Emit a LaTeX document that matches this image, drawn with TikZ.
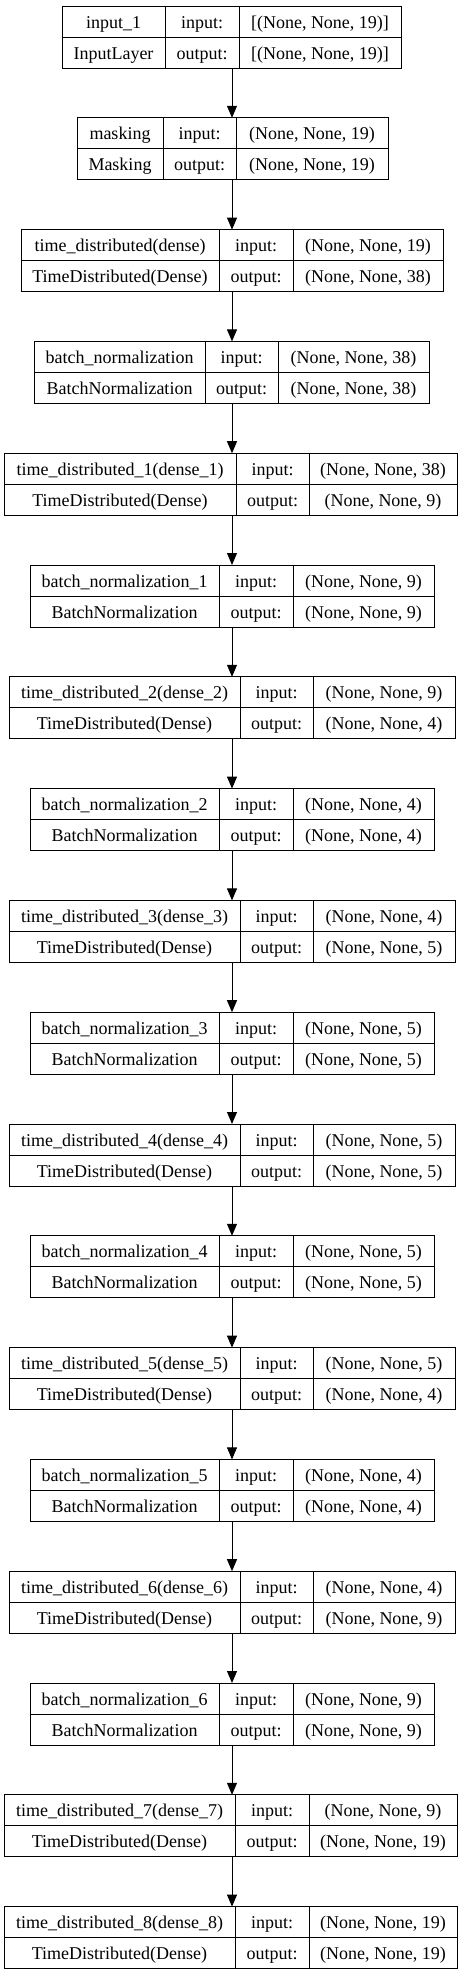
\documentclass[tikz,border=0pt]{standalone}
\usepackage{fontspec}
\setmainfont{Liberation Serif}
\usetikzlibrary{arrows.meta}

\tikzset{
  layerbox/.style = {draw, line width=1pt, minimum height=62pt, inner sep=0pt, outer sep=0pt},
  divider/.style = {line width=1pt},
  celltext/.style = {inner sep=0pt, anchor=base, font=\fontsize{18}{20}\selectfont},
  flow/.style = {line width=1pt, -{Triangle[length=12pt,width=10pt]}}
}

\begin{document}
\begin{tikzpicture}[x=1pt, y=1pt]
  \useasboundingbox (0,0) rectangle (464,-1979);
  \coordinate (spine) at (232,0);

  % one box per layer: name/left/divider/divider/right/layer/type/input/output
  \foreach \n/\a/\b/\c/\d/\lab/\typ/\shin/\shout [count=\i from 0] in {
    inp/62/165/239/401/{input\_1}/{InputLayer}/{[(None, None, 19)]}/{[(None, None, 19)]},
    mask/77/163/236/388/{masking}/{Masking}/{(None, None, 19)}/{(None, None, 19)},
    td0/21/219/293/443/{time\_distributed(dense)}/{TimeDistributed(Dense)}/{(None, None, 19)}/{(None, None, 38)},
    bn0/34/205/278/429/{batch\_normalization}/{BatchNormalization}/{(None, None, 38)}/{(None, None, 38)},
    td1/4/236/309/457/{time\_distributed\_1(dense\_1)}/{TimeDistributed(Dense)}/{(None, None, 38)}/{(None, None, 9)},
    bn1/30/219/293/434/{batch\_normalization\_1}/{BatchNormalization}/{(None, None, 9)}/{(None, None, 9)},
    td2/9/240/313/455/{time\_distributed\_2(dense\_2)}/{TimeDistributed(Dense)}/{(None, None, 9)}/{(None, None, 4)},
    bn2/30/219/293/434/{batch\_normalization\_2}/{BatchNormalization}/{(None, None, 4)}/{(None, None, 4)},
    td3/9/240/313/455/{time\_distributed\_3(dense\_3)}/{TimeDistributed(Dense)}/{(None, None, 4)}/{(None, None, 5)},
    bn3/30/219/293/434/{batch\_normalization\_3}/{BatchNormalization}/{(None, None, 5)}/{(None, None, 5)},
    td4/9/240/313/455/{time\_distributed\_4(dense\_4)}/{TimeDistributed(Dense)}/{(None, None, 5)}/{(None, None, 5)},
    bn4/30/219/293/434/{batch\_normalization\_4}/{BatchNormalization}/{(None, None, 5)}/{(None, None, 5)},
    td5/9/240/313/455/{time\_distributed\_5(dense\_5)}/{TimeDistributed(Dense)}/{(None, None, 5)}/{(None, None, 4)},
    bn5/30/219/293/434/{batch\_normalization\_5}/{BatchNormalization}/{(None, None, 4)}/{(None, None, 4)},
    td6/9/240/313/455/{time\_distributed\_6(dense\_6)}/{TimeDistributed(Dense)}/{(None, None, 4)}/{(None, None, 9)},
    bn6/30/219/293/434/{batch\_normalization\_6}/{BatchNormalization}/{(None, None, 9)}/{(None, None, 9)},
    td7/4/235/309/457/{time\_distributed\_7(dense\_7)}/{TimeDistributed(Dense)}/{(None, None, 9)}/{(None, None, 19)},
    td8/4/235/309/457/{time\_distributed\_8(dense\_8)}/{TimeDistributed(Dense)}/{(None, None, 19)}/{(None, None, 19)}}{
    \pgfmathsetmacro{\yc}{-37-111.8*\i}
    \node[layerbox, minimum width={(\d-\a)*1pt}] (\n) at ({(\a+\d)/2}, \yc) {};
    \draw[divider] (\a,\yc) -- (\d,\yc);
    \draw[divider] (\b,\yc+31) -- (\b,\yc-31);
    \draw[divider] (\c,\yc+31) -- (\c,\yc-31);
    \node[celltext] (\n-lab) at ({(\a+\b)/2}, \yc+9) {\lab};
    \node[celltext] (\n-typ) at ({(\a+\b)/2}, \yc-22) {\typ};
    \node[celltext] (\n-ink) at ({(\b+\c)/2}, \yc+9) {input:};
    \node[celltext] (\n-outk) at ({(\b+\c)/2}, \yc-22) {output:};
    \node[celltext] (\n-ins) at ({(\c+\d)/2}, \yc+9) {\shin};
    \node[celltext] (\n-outs) at ({(\c+\d)/2}, \yc-22) {\shout};
  }

  \foreach \u/\v in {inp/mask, mask/td0, td0/bn0, bn0/td1, td1/bn1, bn1/td2, td2/bn2,
      bn2/td3, td3/bn3, bn3/td4, td4/bn4, bn4/td5, td5/bn5, bn5/td6, td6/bn6, bn6/td7, td7/td8}
    \draw[flow] (\u.south -| spine) -- (\v.north -| spine);
\end{tikzpicture}
\end{document}
